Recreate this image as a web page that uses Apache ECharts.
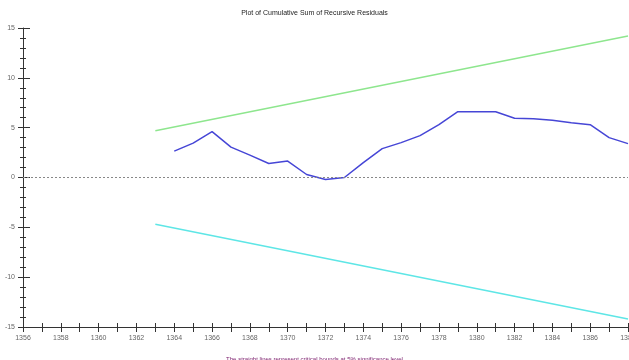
<!DOCTYPE html>
<html><head><meta charset="utf-8">
<script src="https://cdn.jsdelivr.net/npm/echarts@6/dist/echarts.min.js"></script>
<style>html,body{margin:0;padding:0;background:#fff}#c{width:629px;height:360px}</style>
</head><body><div id="c"></div>
<script>
var years = [1364,1365,1366,1367,1368,1369,1370,1371,1372,1373,1374,1375,1376,1377,1378,1379,1380,1381,1382,1383,1384,1385,1386,1387,1388];
var cusum = [2.65,3.45,4.6,3.05,2.25,1.4,1.65,0.3,-0.2,0.0,1.5,2.9,3.5,4.2,5.3,6.6,6.6,6.6,5.95,5.9,5.75,5.5,5.3,4.0,3.4];
var boundYears = [1363,1388];
var upperBound = [4.7,14.2];
var lowerBound = [-4.7,-14.2];
var yTicks = [-15,-10,-5,0,5,10,15];
var titleText = 'Plot of Cumulative Sum of Recursive Residuals';
var noteText = 'The straight lines represent critical bounds at 5% significance level';

function pairs(xs, ys){ return xs.map(function(x,i){return [x, ys[i]];}); }

var chart = echarts.init(document.getElementById('c'));
var lblStyle = {fontSize:7, color:'#666', fontFamily:'Liberation Sans'};
chart.setOption({
  animation:false,
  title:[{text:titleText,left:'center',top:5,textStyle:{fontSize:7,fontWeight:'normal',color:'#222',fontFamily:'Liberation Sans'}},
         {text:noteText,left:'center',top:351,textStyle:{fontSize:6,fontWeight:'normal',color:'#7a1a6a',fontFamily:'Liberation Sans'}}],
  grid:{left:23,right:1,top:28,bottom:33,outerBoundsMode:'none',containLabel:false},
  xAxis:[{type:'value',min:1356,max:1388,interval:1,position:'bottom',
          axisLine:{show:true,onZero:false,lineStyle:{color:'#333',width:1}},
          axisTick:{show:true,length:5,lineStyle:{color:'#333'}},
          axisLabel:Object.assign({margin:8,formatter:function(v){return v%2===0?String(v):'';}},lblStyle),
          splitLine:{show:false}},
         {type:'value',min:1356,max:1388,interval:1,position:'bottom',
          axisLine:{show:true,onZero:false,lineStyle:{color:'#333',width:1}},
          axisTick:{show:true,inside:true,length:4,lineStyle:{color:'#333'}},axisLabel:{show:false},splitLine:{show:false}}],
  yAxis:[{type:'value',min:-15,max:15,interval:5,position:'left',
          axisLine:{show:true,onZero:false,lineStyle:{color:'#333',width:1}},
          axisTick:{show:true,length:5,lineStyle:{color:'#333'}},
          minorTick:{show:true,splitNumber:5,length:3,lineStyle:{color:'#333'}},
          axisLabel:Object.assign({margin:8,formatter:function(v){return yTicks.indexOf(v)>=0?String(v):'';}},lblStyle),
          splitLine:{show:false}},
         {type:'value',min:-15,max:15,interval:5,position:'left',
          axisLine:{show:false,onZero:false},
          axisTick:{show:true,inside:true,length:7,lineStyle:{color:'#333'}},
          minorTick:{show:true,splitNumber:5,length:3,lineStyle:{color:'#333'}},
          axisLabel:{show:false},splitLine:{show:false}}],
  series:[
    {type:'line',data:pairs(years,cusum),symbol:'none',lineStyle:{color:'#4646d6',width:1.5},
     markLine:{silent:true,symbol:'none',label:{show:false},
       data:[{yAxis:0,lineStyle:{color:'#888',type:[2,2],width:1}},
             {yAxis:-15,lineStyle:{color:'#333',type:'solid',width:1}}]}},
    {type:'line',data:pairs(boundYears,upperBound),symbol:'none',lineStyle:{color:'#8ee68e',width:1.5}},
    {type:'line',data:pairs(boundYears,lowerBound),symbol:'none',lineStyle:{color:'#5ee6e6',width:1.5}}
  ]
});
</script></body></html>
